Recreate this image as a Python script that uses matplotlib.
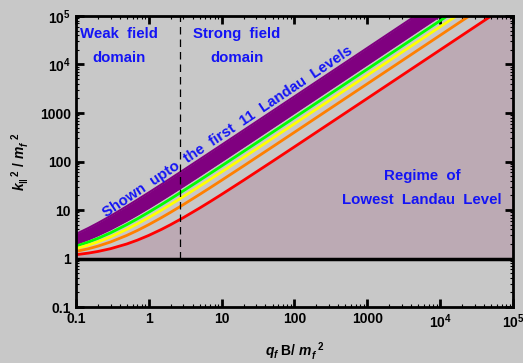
import numpy as np
import matplotlib
matplotlib.use("Agg")
import matplotlib.pyplot as plt
from matplotlib.ticker import FixedLocator, FixedFormatter, LogLocator, NullFormatter

plt.rcParams['font.family'] = ['Liberation Sans', 'DejaVu Sans']
plt.rcParams['font.weight'] = 'bold'
plt.rcParams['mathtext.fontset'] = 'custom'
plt.rcParams['mathtext.rm'] = 'Liberation Sans:bold'
plt.rcParams['mathtext.it'] = 'Liberation Sans:italic:bold'
plt.rcParams['mathtext.bf'] = 'Liberation Sans:bold'

# ---------------------- Data ----------------------
qB = [0.1, 0.15, 0.2, 0.3, 0.5, 0.7, 1, 1.5, 2, 3, 5, 7, 10, 20, 50,
      100, 1000, 1e4, 1e5]
red = [1.2, 1.3, 1.4, 1.6, 2.0, 2.4, 3, 4, 5, 7, 11, 15, 21, 41, 101,
       201, 2001, 2.0e4, 2.0e5]
orange = [1.4, 1.6, 1.8, 2.2, 3.0, 3.8, 5, 7, 9, 13, 21, 29, 41, 81, 201,
          401, 4001, 4.0e4, 4.0e5]
yellow = [1.6, 1.9, 2.2, 2.8, 4.0, 5.2, 7, 10, 13, 19, 31, 43, 61, 121, 301,
          601, 6001, 6.0e4, 6.0e5]
green = [1.8, 2.2, 2.6, 3.4, 5.0, 6.6, 9, 13, 17, 25, 41, 57, 81, 161, 401,
         801, 8001, 8.0e4, 8.0e5]
purple_lo = [2.0, 2.5, 3.0, 4.0, 6.0, 8.0, 11, 16, 21, 31, 51, 71, 101, 201, 501,
             1001, 1.0e4, 1.0e5, 1.0e6]
purple_hi = [3.2, 4.3, 5.4, 7.6, 12, 16.4, 23, 34, 45, 67, 111, 155, 221, 441, 1101,
             2201, 2.2e4, 2.2e5, 2.2e6]

x_dashed = 2.7
tick_vals = [0.1, 1, 10, 100, 1000, 1e4, 1e5]
tick_labels = ["0.1", "1", "10", "100", "1000", r"$10^4$", r"$10^5$"]

bg = '#c8c8c8'
shade = '#bcaab4'

# ---------------------- Figure ----------------------
fig = plt.figure(figsize=(5.23, 3.63), dpi=100, facecolor=bg)
ax = fig.add_axes([0.145, 0.154, 0.836, 0.802], facecolor=bg)
ax.set_xscale('log')
ax.set_yscale('log')
ax.set_xlim(0.1, 1e5)
ax.set_ylim(0.1, 1e5)

# shaded LLL regime
ax.fill_between(qB, 1, red, color=shade, lw=0, zorder=1)

# purple band (higher levels)
ax.fill_between(qB, purple_lo, purple_hi, color='#800080', lw=0, zorder=2)
ax.plot(qB, purple_lo, color='#800080', lw=1.5, zorder=2)
ax.plot(qB, purple_hi, color='#800080', lw=1.5, zorder=2)

ax.plot(qB, green, color='#00ff00', lw=2, zorder=3)
ax.plot(qB, yellow, color='#ffff00', lw=2, zorder=3)
ax.plot(qB, orange, color='#ff8000', lw=2, zorder=3)
ax.plot(qB, red, color='#ff0000', lw=2, zorder=3)

ax.axhline(1, color='black', lw=2.5, zorder=4)
ax.plot([x_dashed, x_dashed], [1, 1e5], color='black', lw=0.9,
        ls=(0, (6, 4)), zorder=4)

# ---------------------- Text ----------------------
blue = '#1414f5'
fs = 10.8
ax.text(0.39, 2.4e4, "Weak  field\ndomain", color=blue, fontsize=fs, ha='center',
        va='center', linespacing=1.9, fontweight='bold')
ax.text(16.3, 2.4e4, "Strong  field\ndomain", color=blue, fontsize=fs, ha='center',
        va='center', linespacing=1.9, fontweight='bold')
ax.text(5600, 28, "Regime  of\nLowest  Landau  Level", color=blue, fontsize=fs,
        ha='center', va='center', linespacing=1.9, fontweight='bold')
ax.text(12, 420, "Shown  upto  the  first  11  Landau  Levels", color=blue,
        fontsize=fs, ha='center', va='center', rotation=33.7,
        rotation_mode='anchor', fontweight='bold')

ax.set_xlabel(r"$q_f$ B/ $m_f^{\ \ 2}$", fontsize=10, labelpad=7, fontweight='bold')
ax.set_ylabel(r"$k_{\Vert}^{\ \ 2}\ /\ m_f^{\ \ 2}$", fontsize=10, labelpad=6,
              fontweight='bold')

# ---------------------- Axes formatting ----------------------
for axis in (ax.xaxis, ax.yaxis):
    axis.set_major_locator(FixedLocator(tick_vals))
    axis.set_major_formatter(FixedFormatter(tick_labels))
    axis.set_minor_locator(LogLocator(base=10, subs=np.arange(2, 10), numticks=20))
    axis.set_minor_formatter(NullFormatter())

ax.tick_params(which='both', direction='in', top=True, right=True,
               labelsize=10, color='black')
ax.tick_params(which='major', length=6, width=2)
ax.tick_params(which='minor', length=2.5, width=0.8)
for lab in ax.get_xticklabels() + ax.get_yticklabels():
    lab.set_fontweight('bold')
for s in ax.spines.values():
    s.set_linewidth(2)
    s.set_zorder(5)

fig.savefig('out.png', dpi=100, facecolor=bg)
